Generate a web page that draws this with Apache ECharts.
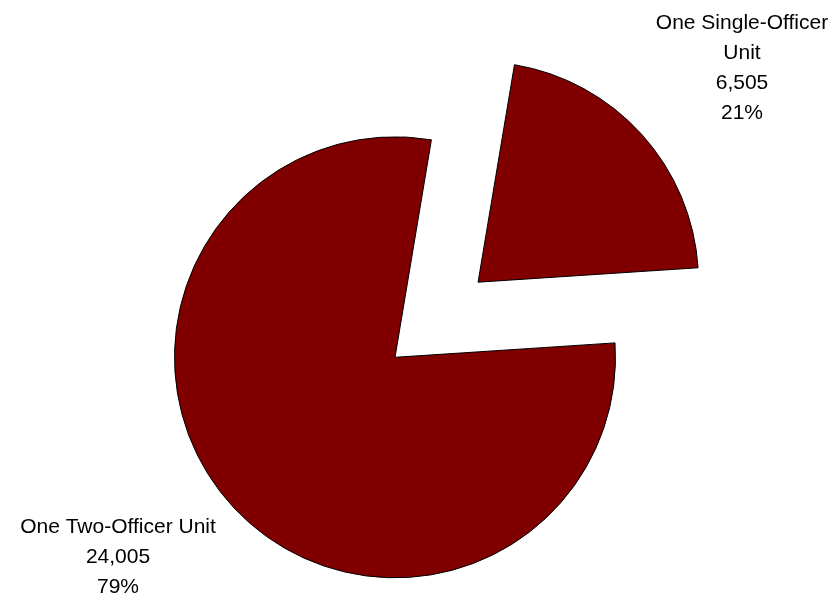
<!DOCTYPE html>
<html>
<head>
<meta charset="utf-8">
<script src="https://cdn.jsdelivr.net/npm/echarts@6/dist/echarts.min.js"></script>
<style>html,body{margin:0;padding:0;background:#fff}#c{width:835px;height:596px}</style>
</head>
<body>
<div id="c"></div>
<script>
var categories = ['One Single-Officer\nUnit', 'One Two-Officer Unit'];
var values = [6505, 24005];
var exploded = [true, false];

var labelPos = [[742, 68.5], [118, 557]];

var total = values.reduce(function (a, b) { return a + b; }, 0);
var labelTexts = categories.map(function (c, i) {
  return c + '\n' + values[i].toLocaleString('en-US') + '\n' + Math.round(values[i] / total * 100) + '%';
});

var chart = echarts.init(document.getElementById('c'), null, {renderer: 'canvas'});
chart.setOption({
  animation: false,
  backgroundColor: '#ffffff',
  graphic: labelTexts.map(function (t, i) {
    return {
      type: 'text',
      x: labelPos[i][0],
      y: labelPos[i][1],
      silent: true,
      style: {
        text: t,
        fill: '#000000',
        font: '21px "Liberation Sans", Arial, sans-serif',
        lineHeight: 30,
        align: 'center',
        verticalAlign: 'middle'
      }
    };
  }),
  series: [{
    type: 'pie',
    center: [395, 357.3],
    radius: [0, 220.5],
    startAngle: 80.5,
    clockwise: true,
    selectedMode: 'single',
    selectedOffset: 112,
    avoidLabelOverlap: false,
    emphasis: {disabled: true},
    itemStyle: {color: '#800000', borderColor: '#000000', borderWidth: 1},
    label: {show: false},
    labelLine: {show: false},
    data: categories.map(function (c, i) {
      return {name: c, value: values[i], selected: exploded[i]};
    })
  }]
});
</script>
</body>
</html>
